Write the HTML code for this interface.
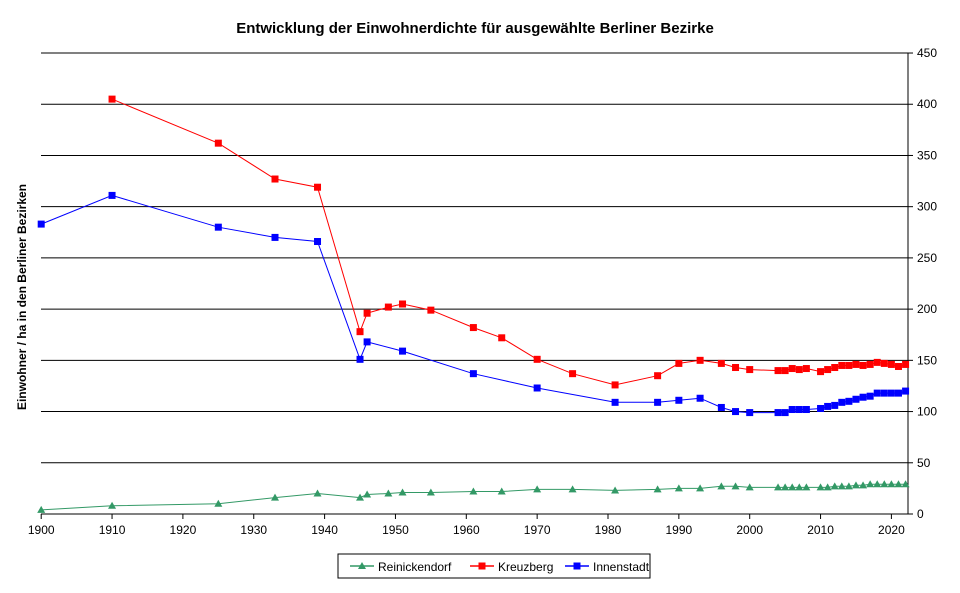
<!DOCTYPE html><html><head><meta charset="utf-8"><style>body{margin:0;background:#fff}svg{display:block;font-family:"Liberation Sans",Arial,sans-serif}</style></head><body>
<svg id="s" width="960" height="593" xmlns="http://www.w3.org/2000/svg">
<text x="475" y="33" text-anchor="middle" font-size="15" font-weight="bold">Entwicklung der Einwohnerdichte für ausgewählte Berliner Bezirke</text>
<text transform="translate(26,297) rotate(-90)" text-anchor="middle" font-size="12" font-weight="bold">Einwohner / ha in den Berliner Bezirken</text>
<g id="g"></g>
<rect x="338" y="554" width="312" height="24" fill="none" stroke="#000"/>
<line x1="350" y1="566" x2="374" y2="566" stroke="#339966" stroke-width="1.5"/><path d="M362,562 L366,569 L358,569Z" fill="#339966"/>
<text x="378" y="571" font-size="12">Reinickendorf</text>
<line x1="470" y1="566" x2="494" y2="566" stroke="#f00" stroke-width="1.5"/><rect x="478.5" y="562.5" width="7" height="7" fill="#f00"/>
<text x="498" y="571" font-size="12">Kreuzberg</text>
<line x1="565" y1="566" x2="589" y2="566" stroke="#00f" stroke-width="1.5"/><rect x="573.5" y="562.5" width="7" height="7" fill="#00f"/>
<text x="593" y="571" font-size="12">Innenstadt</text>
</svg>
<script>
var X=function(y){return 41.2+(y-1900)*7.085},Y=function(v){return 514-v*1.0244};
var h='';
for(var v=50;v<=450;v+=50){h+='<line x1="41" x2="908" y1="'+Y(v)+'" y2="'+Y(v)+'" stroke="#000"/>';}
for(var v=0;v<=450;v+=50){h+='<line x1="908" x2="913" y1="'+Y(v)+'" y2="'+Y(v)+'" stroke="#000"/><text x="917" y="'+(Y(v)+4)+'" font-size="12">'+v+'</text>';}
h+='<line x1="41" x2="908" y1="514" y2="514" stroke="#000"/><line x1="908" x2="908" y1="'+Y(450)+'" y2="514" stroke="#000"/>';
for(var y=1900;y<=2020;y+=10){h+='<line x1="'+X(y)+'" x2="'+X(y)+'" y1="514" y2="519" stroke="#000"/><text x="'+X(y)+'" y="534" text-anchor="middle" font-size="12">'+y+'</text>';}
var K=[[1910,405],[1925,362],[1933,327],[1939,319],[1945,178],[1946,196],[1949,202],[1951,205],[1955,199],[1961,182],[1965,172],[1970,151],[1975,137],[1981,126],[1987,135],[1990,147],[1993,150],[1996,147],[1998,143],[2000,141],[2004,140],[2005,140],[2006,142],[2007,141],[2008,142],[2010,139],[2011,141],[2012,143],[2013,145],[2014,145],[2015,146],[2016,145],[2017,146],[2018,148],[2019,147],[2020,146],[2021,144],[2022,146]];
var I=[[1900,283],[1910,311],[1925,280],[1933,270],[1939,266],[1945,151],[1946,168],[1951,159],[1961,137],[1970,123],[1981,109],[1987,109],[1990,111],[1993,113],[1996,104],[1998,100],[2000,99],[2004,99],[2005,99],[2006,102],[2007,102],[2008,102],[2010,103],[2011,105],[2012,106],[2013,109],[2014,110],[2015,112],[2016,114],[2017,115],[2018,118],[2019,118],[2020,118],[2021,118],[2022,120]];
var R=[[1900,4],[1910,8],[1925,10],[1933,16],[1939,20],[1945,16],[1946,19],[1949,20],[1951,21],[1955,21],[1961,22],[1965,22],[1970,24],[1975,24],[1981,23],[1987,24],[1990,25],[1993,25],[1996,27],[1998,27],[2000,26],[2004,26],[2005,26],[2006,26],[2007,26],[2008,26],[2010,26],[2011,26],[2012,27],[2013,27],[2014,27],[2015,28],[2016,28],[2017,29],[2018,29],[2019,29],[2020,29],[2021,29],[2022,29]];
function ser(d,c,tri){var p=d.map(function(a){return X(a[0]).toFixed(1)+','+Y(a[1]).toFixed(1)}).join(' ');
h+='<polyline points="'+p+'" fill="none" stroke="'+c+'" stroke-width="1"/>';
d.forEach(function(a){var x=X(a[0]),y=Y(a[1]);h+=tri?'<path d="M'+x+','+(y-4)+' L'+(x+4)+','+(y+3)+' L'+(x-4)+','+(y+3)+'Z" fill="'+c+'"/>':'<rect x="'+(x-3.5)+'" y="'+(y-3.5)+'" width="7" height="7" fill="'+c+'"/>';});}
ser(R,'#339966',1);ser(K,'#f00',0);ser(I,'#00f',0);
document.getElementById('g').innerHTML=h;
</script></body></html>
